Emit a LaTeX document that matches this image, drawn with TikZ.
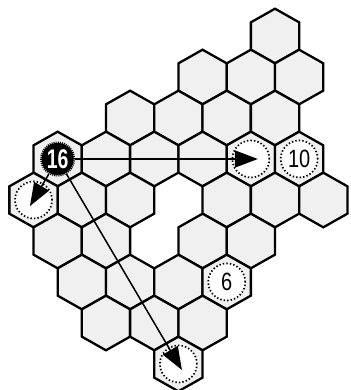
\documentclass[tikz,border=0pt]{standalone}
\usepackage{fontspec}
\usepackage{graphicx}
\setmainfont{Liberation Sans}
\usetikzlibrary{arrows.meta}
\definecolor{hexfill}{HTML}{F0F0F0}
\tikzset{
  hexcell/.style={draw=black, fill=hexfill, line width=2.3pt, line join=miter},
  target/.style={circle, draw=black, fill=white, line width=1.7pt,
    dash pattern=on 1.4pt off 2.1pt, minimum size=37pt, inner sep=0pt},
  clue/.style={target, font=\fontsize{25}{25}\selectfont},
  startcell/.style={circle, fill=black, draw=black, line width=3pt,
    dash pattern=on 1pt off 1pt, minimum size=32pt, inner sep=0pt,
    text=white, font=\bfseries\fontsize{27}{27}\selectfont},
  arr/.style={line width=1.5pt, -{Triangle[length=23pt,width=17pt]}, shorten >=-7pt}
}
\begin{document}
\begin{tikzpicture}[x=1pt,y=-1pt]
\useasboundingbox (0,0) rectangle (350,390);
\foreach \k/\r in {0/0, -3/1,-1/1,1/1, -6/2,-4/2,-2/2,0/2,
  -9/3,-7/3,-5/3,-3/3,-1/3,1/3, -10/4,-8/4,-6/4,-2/4,0/4,2/4,
  -9/5,-7/5,-3/5,-1/5, -8/6,-6/6,-4/6,-2/6, -7/7,-5/7,-3/7, -4/8}{
  \draw[hexcell] ({275+24.15*\k},{36+41*\r})
    +(0,-27.3) -- +(24.15,-13.65) -- +(24.15,13.65) -- +(0,27.3)
    -- +(-24.15,13.65) -- +(-24.15,-13.65) -- cycle;
}
\node[target] (tA) at (250.85,159) {};
\node[target] (tB) at (33.5,200) {};
\node[target] (tC) at (178.4,364) {};
\node[clue] (n10) at (299.15,159) {\scalebox{0.8}[1]{10}};
\node[clue] (n6) at (226.7,282) {\scalebox{0.8}[1]{6}};
\node[startcell] (n16) at (57.65,159) {\scalebox{0.72}[1]{16}};
\draw[arr] (n16) -- (tA.center);
\draw[arr] (n16) -- (tB.center);
\draw[arr] (n16) -- (tC.center);
\end{tikzpicture}
\end{document}
